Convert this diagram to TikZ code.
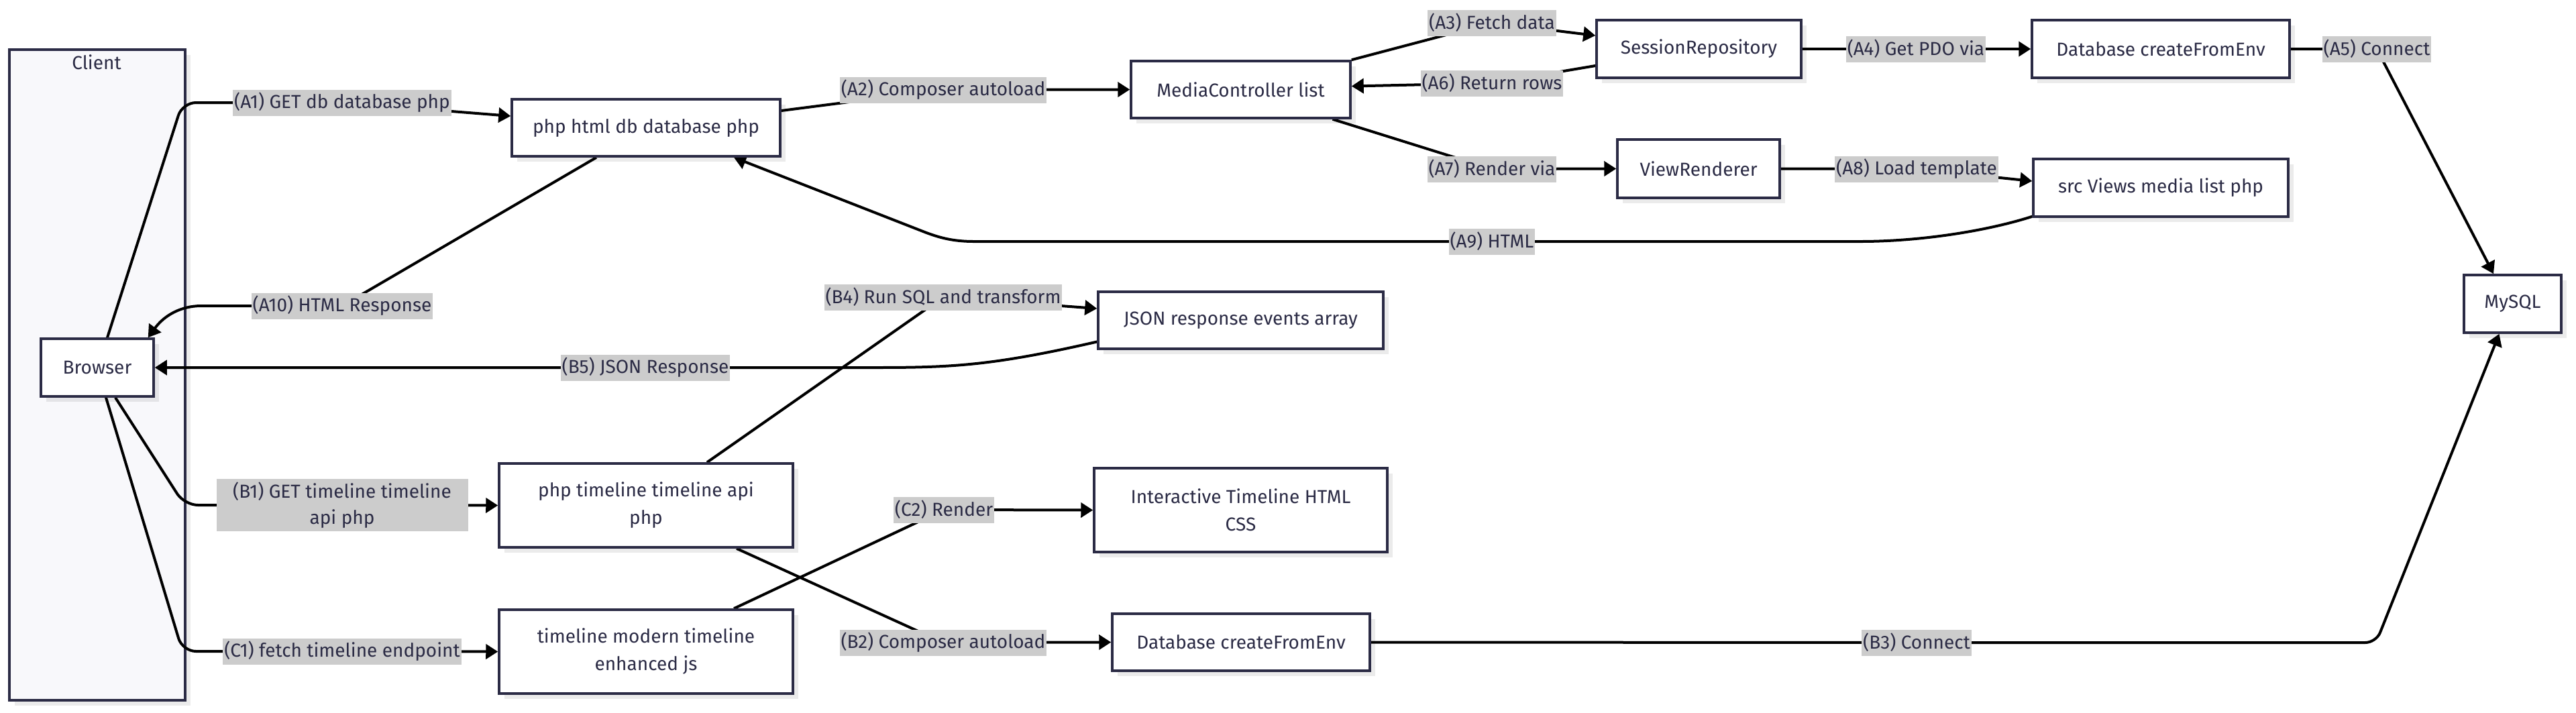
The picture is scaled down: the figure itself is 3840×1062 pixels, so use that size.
\documentclass[tikz,border=0pt]{standalone}
\usepackage{fontspec}
\setmainfont{Fira Sans}
\usetikzlibrary{arrows.meta,calc,shadows}
\definecolor{ink}{RGB}{43,43,69}
\definecolor{lblbg}{RGB}{204,204,204}
\definecolor{clientbg}{RGB}{248,248,251}
\pgfdeclarelayer{bg}
\pgfdeclarelayer{edges}
\pgfsetlayers{bg,edges,main}
\begin{document}
\begin{tikzpicture}[x=0.5pt,y=-0.5pt,
  every node/.style={font=\fontsize{14}{20.5}\selectfont, text=ink},
  box/.style={draw=ink, line width=1.75pt, fill=white, inner sep=0pt, align=center,
    general shadow={fill=black, opacity=0.08, shadow xshift=4pt, shadow yshift=-4pt}},
  lbl/.style={fill=lblbg, inner xsep=1pt, inner ysep=0pt, minimum height=19.5pt, align=center},
  edge/.style={draw=black, line width=2pt, -{Triangle[length=9pt,width=11pt]}},
]
\useasboundingbox (0,0) rectangle (3840,1062);

\begin{pgfonlayer}{bg}
\node[box, fill=clientbg, minimum width=131pt, minimum height=485pt] (client) at (145,559) {};
\end{pgfonlayer}
\node (clientlbl) at (144,93) {Client};

% boxes
\node[box, minimum width=84pt, minimum height=43pt] (browser) at (145,548) {Browser};
\node[box, minimum width=200pt, minimum height=42.5pt] (phphtml) at (963,190.5) {php html db database php};
\node[box, minimum width=163.5pt, minimum height=42.5pt] (media) at (1849.5,133.5) {MediaController list};
\node[box, minimum width=152.5pt, minimum height=43pt] (session) at (2532.5,73) {SessionRepository};
\node[box, minimum width=192pt, minimum height=43pt] (dbA) at (3221,73) {Database createFromEnv};
\node[box, minimum width=121pt, minimum height=43.5pt] (view) at (2532,251.5) {ViewRenderer};
\node[box, minimum width=190pt, minimum height=43pt] (srcview) at (3221,280) {src Views media list php};
\node[box, minimum width=72.5pt, minimum height=43pt] (mysql) at (3745.5,453) {MySQL};
\node[box, minimum width=212.5pt, minimum height=42.5pt] (json) at (1849.5,477.5) {JSON response events array};
\node[box, minimum width=219pt, minimum height=62.5pt] (phptl) at (963,753.5) {php timeline timeline api\\php};
\node[box, minimum width=219pt, minimum height=62.5pt] (tlmodern) at (963,971.5) {timeline modern timeline\\enhanced js};
\node[box, minimum width=218.5pt, minimum height=62.5pt] (interactive) at (1849.5,760.5) {Interactive Timeline HTML\\CSS};
\node[box, minimum width=192pt, minimum height=42.5pt] (dbB) at (1850,957.5) {Database createFromEnv};

% edge labels
\node[lbl] (A1) at (510,153) {(A1) GET db database php};
\node[lbl] (A2) at (1406,134) {(A2) Composer autoload};
\node[lbl] (A3) at (2224,34) {(A3) Fetch data};
\node[lbl] (A4) at (2856,73) {(A4) Get PDO via};
\node[lbl] (A5) at (3543,73) {(A5) Connect};
\node[lbl] (A6) at (2224,124) {(A6) Return rows};
\node[lbl] (A7) at (2224,252) {(A7) Render via};
\node[lbl] (A8) at (2857,252) {(A8) Load template};
\node[lbl] (A9) at (2224,360) {(A9) HTML};
\node[lbl] (A10) at (510,456) {(A10) HTML Response};
\node[lbl, minimum width=187.5pt, minimum height=39pt, font=\fontsize{14}{19.5}\selectfont] (B1) at (510,753) {(B1) GET timeline timeline\\api php};
\node[lbl] (B2) at (1406,958) {(B2) Composer autoload};
\node[lbl] (B3) at (2857,958) {(B3) Connect};
\node[lbl] (B4) at (1406,443) {(B4) Run SQL and transform};
\node[lbl] (B5) at (962,548) {(B5) JSON Response};
\node[lbl] (C1) at (510,971) {(C1) fetch timeline endpoint};
\node[lbl] (C2) at (1407,760) {(C2) Render};

\begin{pgfonlayer}{edges}
\draw[edge, rounded corners=10pt] ($(browser.north)+(15,0)$) -- (272,153) -- (A1.center) -- ($(phphtml.west)+(0,-17.5)$);
\draw[edge] ($(phphtml.east)+(0,-25.5)$) -- (A2.center) -- (media.west);
\draw[edge] (media.north east) -- (A3.center) -- ($(session.west)+(0,-20)$);
\draw[edge] (session.east) -- (A4.center) -- (dbA.west);
\draw[edge] (dbA.east) -- (A5.center) -- ($(mysql.north)+(-28.5,0)$);
\draw[edge] ($(session.west)+(0,25)$) -- (A6.center) -- ($(media.east)+(0,-5)$);
\draw[edge] ($(media.south)+(137,0)$) -- (A7.center) -- (view.west);
\draw[edge] (view.east) -- (A8.center) -- ($(srcview.west)+(0,-10)$);
\draw[edge] ($(srcview.south west)+(0,-2)$) .. controls (2960,345) and (2860,360) .. (2773,360)
  -- (A9.center) -- (1452,360) .. controls (1420,360) and (1400,354) .. (1381,347)
  -- ($(phphtml.south)+(131,0)$);
\draw[edge] ($(phphtml.south)+(-74,0)$) -- (A10.center) -- (300,456)
  .. controls (270,456) and (245,470) .. ($(browser.north east)+(-10,0)$);
\draw[edge] ($(json.west)+(0,32)$) .. controls (1480,545) and (1420,548) .. (1304,548)
  -- (B5.center) -- (browser.east);
\draw[edge, rounded corners=10pt] ($(browser.south)+(27,0)$) -- (275,753) -- (B1.center) -- (phptl.west);
\draw[edge, rounded corners=10pt] ($(browser.south)+(13,0)$) -- (272,971) -- (C1.center) -- (tlmodern.west);
\draw[edge] ($(phptl.north)+(91,0)$) -- (B4.center) -- ($(json.west)+(0,-17.5)$);
\draw[edge] ($(phptl.south)+(135,0)$) -- (B2.center) -- (dbB.west);
\draw[edge] ($(tlmodern.north)+(131,0)$) -- (C2.center) -- (interactive.west);
\draw[edge, rounded corners=8pt] (dbB.east) -- (B3.center) -- (3542,958) -- ($(mysql.south)+(-20,0)$);
\end{pgfonlayer}
\end{tikzpicture}
\end{document}
